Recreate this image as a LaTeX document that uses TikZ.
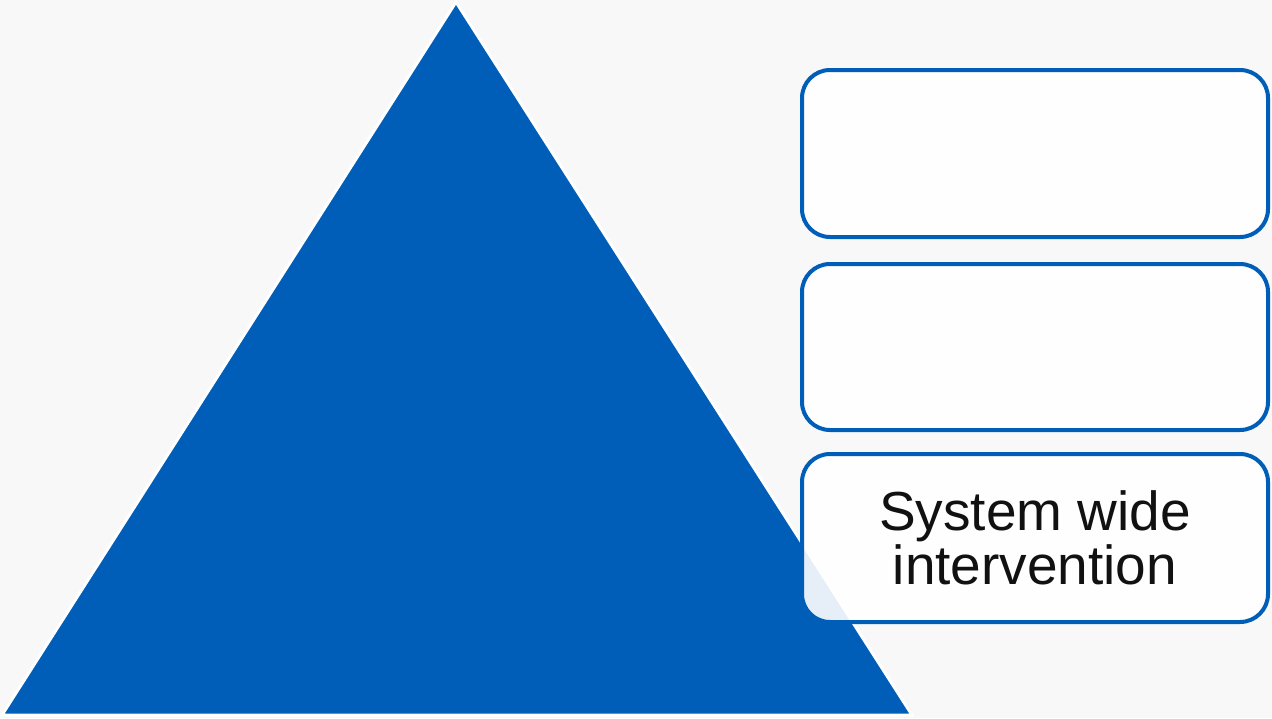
\documentclass[tikz,border=0pt]{standalone}
\usepackage{fontspec}
\setmainfont{Liberation Sans}
\definecolor{nhsblue}{HTML}{005EB8}
\definecolor{bgray}{HTML}{F8F8F9}
\definecolor{txt}{HTML}{111111}
\tikzset{
  tri/.style={fill=nhsblue, draw=white, line width=3pt, line join=miter},
  panel/.style={draw=nhsblue, line width=4pt, fill=white, fill opacity=0.9, text opacity=1,
    rounded corners=28pt, minimum width=466pt, inner sep=0pt, align=center, text=txt,
    font=\fontsize{55pt}{54pt}\selectfont},
}
\begin{document}
\begin{tikzpicture}[x=1pt,y=-1pt]
\fill[bgray] (0,0) rectangle (1272,718);
\useasboundingbox (0,0) rectangle (1272,718);
\coordinate (apex) at (456,2);
\coordinate (bl) at (2,715);
\coordinate (br) at (912,715);
\draw[tri] (apex) -- (bl) -- (br) -- cycle;
\node[panel, minimum height=167pt] (b1) at (1035,153.5) {};
\node[panel, minimum height=166pt] (b2) at (1035,347) {};
\node[panel, minimum height=168pt] (b3) at (1035,538) {System wide\\intervention};
\end{tikzpicture}
\end{document}
